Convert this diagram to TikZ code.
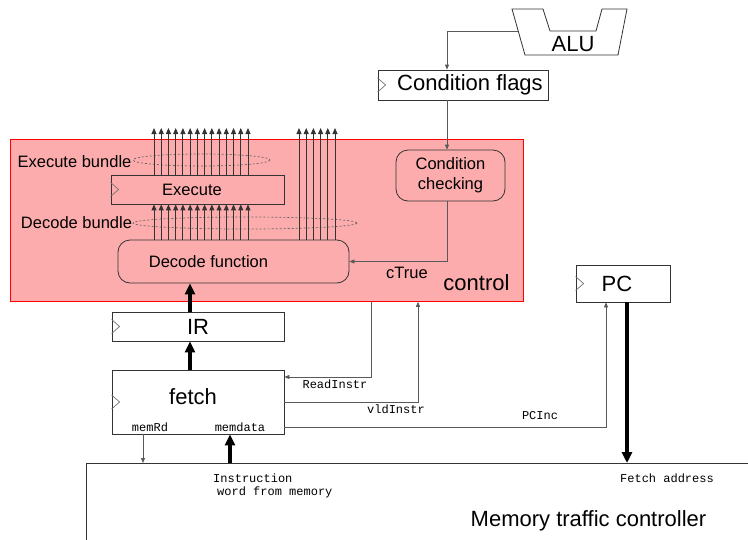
\documentclass[tikz,border=0pt]{standalone}
\usepackage{fontspec}
\setmainfont{Liberation Sans}
\setmonofont{Liberation Mono}
\usetikzlibrary{arrows.meta}
\definecolor{ctlpink}{RGB}{252,172,172}

\begin{document}
\begin{tikzpicture}[x=1pt,y=-1pt,
  big/.style={font=\fontsize{22}{26}\selectfont, inner sep=0pt},
  mid/.style={font=\fontsize{16.5}{20}\selectfont, inner sep=0pt},
  sig/.style={font=\ttfamily\fontsize{12}{14}\selectfont, inner sep=0pt},
  box/.style={draw=black!80, line width=0.8pt, inner sep=0pt},
  rbox/.style={draw=black!80, line width=0.8pt, rounded corners=12pt, inner sep=0pt},
  wire/.style={draw=black!65, line width=0.8pt, -{Triangle[length=5pt,width=4pt]}},
  fat/.style={draw=black, line width=3.5pt, -{Triangle[length=11pt,width=10pt]}},
  bus/.style={draw=black!80, line width=0.9pt, -{Triangle[length=6pt,width=5pt]}},
  clk/.style={draw=black!55, line width=0.7pt},
  bundle/.style={draw=black!60, dash pattern=on 2pt off 2pt, line width=0.7pt}
]
\useasboundingbox (0,0) rectangle (748,539);
\clip (0,0) rectangle (748,539);

% ---- control block (background) ----
\node[draw=red, fill=ctlpink, line width=0.8pt, minimum width=513pt, minimum height=162pt,
      inner sep=0pt, anchor=north west] (control) at (10,139) {};

% ---- ALU ----
\path[draw=black!80, line width=0.8pt, fill=white]
  (512,9) -- (543,9) -- (550,31) -- (596,31) -- (602,9) -- (627,9) -- (618,55) -- (525,55) -- cycle;
\node[big] (alu) at (573,44) {ALU};
\coordinate (alu-in) at (518,31);

% ---- registers and blocks ----
\node[box, big, minimum width=170pt, minimum height=30pt] (flags) at (463,85) {\hspace*{14pt}Condition flags};
\node[box, mid, minimum width=173pt, minimum height=29pt] (exec) at (197.5,189.5) {Execute\hspace*{11pt}};
\node[rbox, mid, minimum width=231pt, minimum height=43pt] (dec) at (233.5,261.5) {Decode function\hspace*{50pt}};
\node[rbox, mid, align=center, minimum width=109pt, minimum height=51pt] (cc) at (450.5,175.5) {Condition\\checking};
\node[box, big, minimum width=172pt, minimum height=29pt] (ir) at (198,326.5) {IR};
\node[box, minimum width=172pt, minimum height=64pt] (fetch) at (198,402) {};
\node[big] (fetch-t) at (193,397) {fetch};
\node[box, big, minimum width=94pt, minimum height=37pt] (pc) at (623,283.5) {PC\hspace*{12pt}};
\node[box, minimum width=720pt, minimum height=140pt, anchor=north west] (mem) at (86,463) {};

% clock marks on the registers
\foreach \n in {flags,exec,ir,fetch,pc}
  \draw[clk] ([yshift=7pt]\n.west) -- ([xshift=8pt]\n.west) -- ([yshift=-7pt]\n.west);

% ---- bundles ----
\draw[bundle] (201.5,160) ellipse [x radius=68.5, y radius=6];
\draw[bundle] (245,223) ellipse [x radius=112, y radius=6];
\foreach \i in {0,...,13} {
  \pgfmathsetmacro\xx{154+\i*94/13}
  \coordinate (bx) at (\xx,128);
  \draw[bus] (bx |- exec.north) -- (bx);
  \draw[bus] (bx |- dec.north) -- (bx |- exec.south);
}
\foreach \i in {0,...,5} {
  \pgfmathsetmacro\xx{299+\i*7.2}
  \coordinate (bx) at (\xx,128);
  \draw[bus] (bx |- dec.north) -- (bx);
}
\node[mid] (eb) at (74.5,162) {Execute bundle};
\node[mid] (db) at (76.5,223) {Decode bundle};

% ---- control signals ----
\coordinate (ccx) at (447,0);
\coordinate (rdx) at (371,0);
\coordinate (rdy) at (0,377);
\coordinate (vdx) at (418,0);
\coordinate (pcx) at (606,0);
\coordinate (pcy) at (0,427);
\coordinate (mrx) at (143,0);
\coordinate (mdx) at (230,0);
\coordinate (irx) at (190,0);
\coordinate (fax) at (627,0);

\draw[wire] (alu-in) -| (flags.north -| ccx);
\draw[wire] (flags.south -| ccx) -- (cc.north -| ccx);
\draw[wire] (cc.south -| ccx) |- (dec.east);
\draw[wire] (control.south -| rdx) |- (fetch.east |- rdy);
\draw[wire] (fetch.east) -| (control.south -| vdx);
\draw[wire] (fetch.east |- pcy) -| (pc.south -| pcx);
\draw[wire] (fetch.south -| mrx) -- (mem.north -| mrx);

\draw[fat] (mem.north -| mdx) -- (fetch.south -| mdx);
\draw[fat] (fetch.north -| irx) -- (ir.south -| irx);
\draw[fat] (ir.north -| irx) -- (dec.south -| irx);
\draw[fat] (pc.south -| fax) -- (mem.north -| fax);

% ---- labels ----
\node[mid] (l-ct) at (407,273) {cTrue};
\node[big] (l-ctl) at (476.5,283) {control};
\node[sig] (l-rd) at (335,384) {ReadInstr};
\node[sig] (l-vld) at (396,409) {vldInstr};
\node[sig] (l-pci) at (540,416) {PCInc};
\node[sig] (l-mrd) at (150,427) {memRd};
\node[sig] (l-mdt) at (240,427) {memdata};
\node[sig] (l-fa) at (667,478) {Fetch address};
\node[sig, anchor=west] (l-iw1) at (213,478) {Instruction};
\node[sig, anchor=west] (l-iw2) at (217,492) {word from memory};
\node[big] (l-mem) at (588.5,521) {Memory traffic controller};
\end{tikzpicture}
\end{document}
